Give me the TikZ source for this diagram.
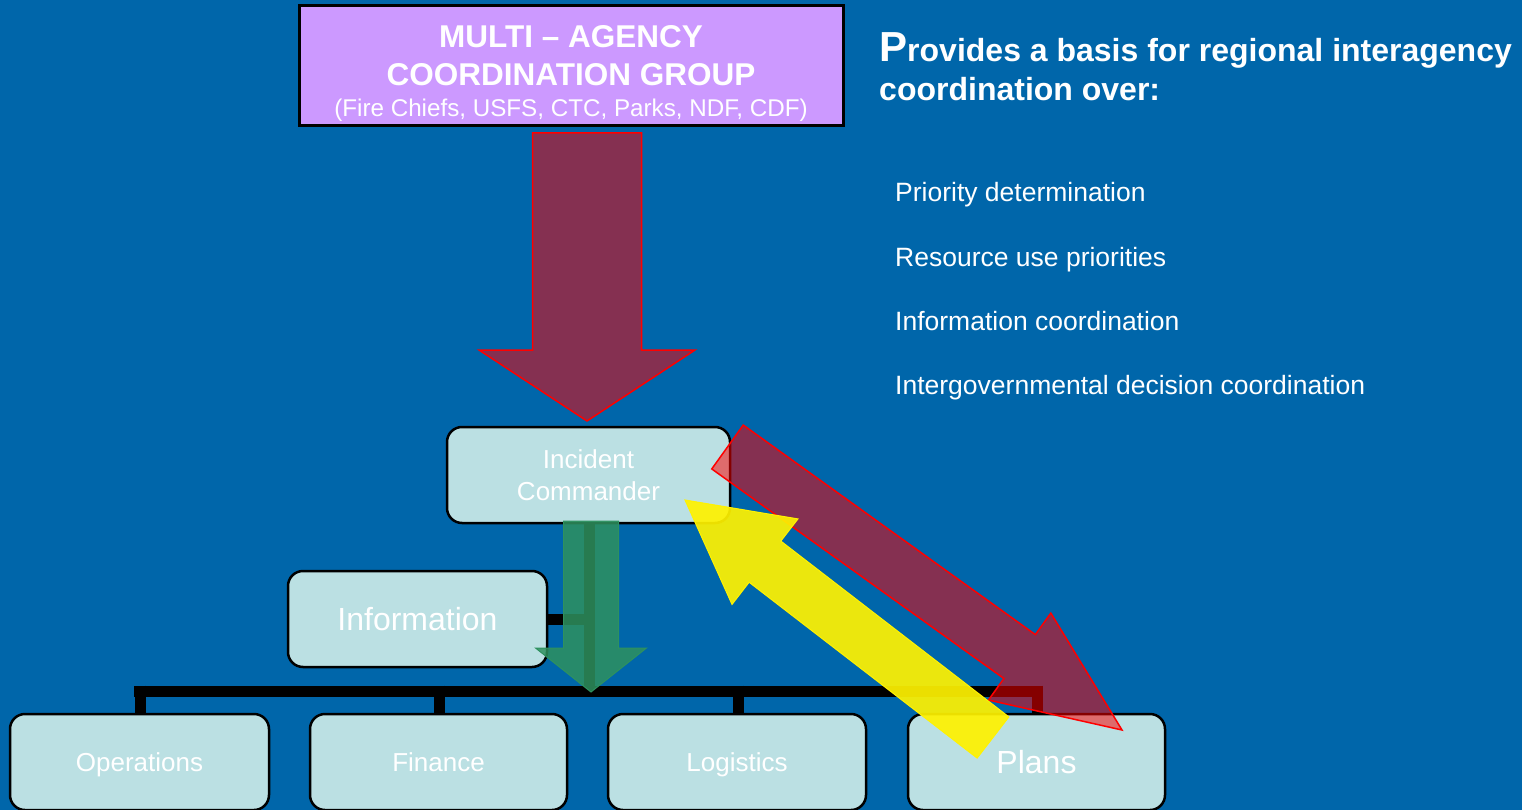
\documentclass[tikz,border=0pt]{standalone}
\usepackage{fontspec}
\setmainfont{Liberation Sans}
\usetikzlibrary{calc}
\definecolor{bgblue}{RGB}{0,102,170}
\definecolor{boxfill}{RGB}{187,224,227}
\definecolor{macfill}{RGB}{204,153,255}
\definecolor{arrowgreen}{RGB}{46,145,95}
\newcommand\fatarrow[6]{% style, from, to, shaft half width, head half width, head length
  \coordinate (fa-base) at ($(#3)!#6!(#2)$);
  \draw[#1] ($(#2)!#4!90:(#3)$) -- ($(fa-base)!#4!90:(#3)$) -- ($(fa-base)!#5!90:(#3)$)
    -- (#3) -- ($(fa-base)!#5!-90:(#3)$) -- ($(fa-base)!#4!-90:(#3)$) -- ($(#2)!#4!-90:(#3)$) -- cycle;}
\tikzset{
  orgbox/.style={draw=black, line width=2.5pt, fill=boxfill, rounded corners=15pt,
    minimum height=96pt, text=white, align=center, inner sep=0pt},
  smalltext/.style={font=\fontsize{26}{30}\selectfont, text height=18.6pt, text depth=0pt},
  bigtext/.style={font=\fontsize{32}{36}\selectfont, text height=22.9pt, text depth=0pt},
  macbox/.style={draw=black, line width=3pt, fill=macfill, minimum width=544pt,
    minimum height=120pt, inner sep=0pt},
  mactextstyle/.style={text=white, align=center, inner sep=0pt,
    font=\fontsize{31.5}{38}\selectfont\bfseries},
  orgline/.style={draw=black, line width=11pt},
  redarrow/.style={draw=red, line width=1.5pt, fill=red, fill opacity=0.52},
  greenarrow/.style={draw=arrowgreen, line width=1pt, fill=arrowgreen, fill opacity=0.85},
  yellowarrow/.style={draw=yellow, line width=1pt, fill=yellow, fill opacity=0.92},
  bodytext/.style={text=white, anchor=base west, inner sep=0pt, font=\fontsize{26.5}{30}\selectfont},
  headtext/.style={text=white, anchor=base west, inner sep=0pt, font=\fontsize{32}{38}\selectfont\bfseries},
}
\begin{document}
\begin{tikzpicture}[x=1pt,y=-1pt]
\fill[bgblue] (0,0) rectangle (1522,810);
\useasboundingbox (0,0) rectangle (1522,810);
\clip (0,0) rectangle (1522,810);

% nodes
\node[macbox] (mac) at (571,66) {};
\node[mactextstyle, anchor=north] (mactext) at (571,25) {MULTI -- AGENCY\\
  COORDINATION GROUP\\[-7pt]
  {\mdseries\fontsize{24.2}{28}\selectfont (Fire Chiefs, USFS, CTC, Parks, NDF, CDF)}};
\node[orgbox, minimum width=283pt, font=\fontsize{26}{32}\selectfont] (ic) at (588.5,475) {Incident\\Commander};
\node[orgbox, minimum width=259pt, bigtext] (info) at (417.5,619) {Information};
\node[orgbox, minimum width=259pt, smalltext] (ops) at (139.5,762) {Operations};
\node[orgbox, minimum width=257pt, smalltext] (fin) at (438.5,762) {Finance};
\node[orgbox, minimum width=258pt, smalltext] (log) at (737,762) {Logistics};
\node[orgbox, minimum width=257pt, bigtext] (plans) at (1036.5,762) {Plans};

% org chart lines (drawn beneath the arrows)
\coordinate (bar) at (589,691);
\coordinate (barL) at (134,691);
\coordinate (barR) at (1042,691);
\draw[orgline] (ic.south -| bar) -- (bar);
\draw[orgline] (info.east) -- (info.east -| bar);
\draw[orgline] (barL) -- (barR);
\draw[orgline] (140,685.5) -- (140,714);
\draw[orgline] (439,685.5) -- (439,714);
\draw[orgline] (738,685.5) -- (738,714);
\draw[orgline] (1037,685.5) -- (1037,714);

% block arrows
\coordinate (r1s) at (587,133);
\coordinate (r1e) at (587,421);
\fatarrow{redarrow}{r1s}{r1e}{54.5pt}{108pt}{71pt}
\coordinate (g1s) at (591,521);
\coordinate (g1e) at (591,692);
\fatarrow{greenarrow}{g1s}{g1e}{27.5pt}{55.5pt}{44pt}
\coordinate (r2s) at (727.5,447);
\coordinate (r2e) at (1122,730);
\fatarrow{redarrow}{r2s}{r2e}{27pt}{53.5pt}{126pt}
\coordinate (y1s) at (993,737.5);
\coordinate (y1e) at (685,500);
\fatarrow{yellowarrow}{y1s}{y1e}{26pt}{54pt}{101pt}

% right-hand text
\node[headtext] (h1) at (879,62) {{\fontsize{42}{42}\selectfont P}rovides a basis for regional interagency};
\node[headtext] (h2) at (879,101) {coordination over:};
\node[bodytext] (b1) at (895,202) {Priority determination};
\node[bodytext] (b2) at (895,266) {Resource use priorities};
\node[bodytext] (b3) at (895,330) {Information coordination};
\node[bodytext] (b4) at (895,394) {Intergovernmental decision coordination};
\end{tikzpicture}
\end{document}
